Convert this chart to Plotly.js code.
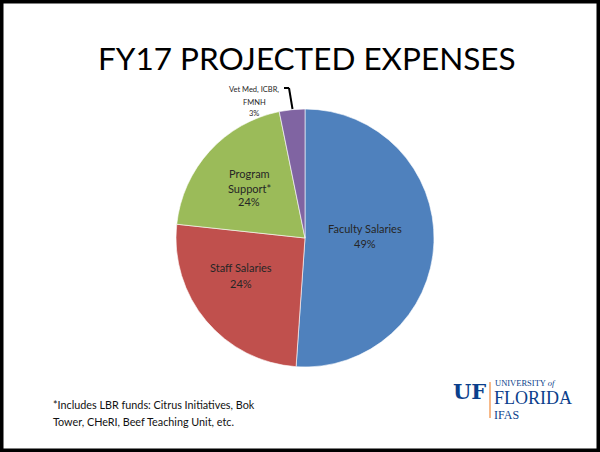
<!DOCTYPE html>
<html>
<head>
<meta charset="utf-8">
<script src="https://cdn.plot.ly/plotly-3.0.1.min.js"></script>
<style>
html,body{margin:0;padding:0;background:#fff;}
#chart{width:600px;height:452px;}
</style>
</head>
<body>
<div id="chart"></div>
<script>
// Data (slice sizes as drawn; label texts as printed)
const categories = ["Faculty Salaries", "Staff Salaries", "Program Support*", "Vet Med, ICBR, FMNH"];
const values = [51.1, 25.6, 20.1, 3.2];
const labelLines = [["Faculty Salaries", "49%"], ["Staff Salaries", "24%"], ["Program", "Support*", "24%"], ["Vet Med, ICBR,", "FMNH", "3%"]];
const colors = ["#4F81BD", "#C0504D", "#9BBB59", "#8064A2"];
const titleText = "FY17 PROJECTED EXPENSES";
const footnoteLines = ["*Includes LBR funds: Citrus Initiatives, Bok", "Tower, CHeRI, Beef Teaching Unit, etc."];

const W = 600, H = 452;
const px = x => x / W;
const py = y => 1 - y / H;

const FONT = "Lato, 'Open Sans', sans-serif";

// label placements (pixel positions of each line)
const labelPos = [
  {x: 365, ys: [228, 244], size: 11},
  {x: 241, ys: [267, 283], size: 11},
  {x: 249, ys: [173, 188, 202], size: 11},
  {x: 254, ys: [89, 102, 113], size: 7.5}
];

const annotations = [];
labelLines.forEach((lines, i) => {
  lines.forEach((t, j) => {
    annotations.push({
      xref: 'paper', yref: 'paper', x: px(labelPos[i].x), y: py(labelPos[i].ys[j]),
      xanchor: 'center', yanchor: 'middle', showarrow: false, text: t,
      font: {family: FONT, size: labelPos[i].size, color: '#262626'}
    });
  });
});

annotations.push({
  xref: 'paper', yref: 'paper', x: px(307), y: py(58), xanchor: 'center', yanchor: 'middle',
  showarrow: false, text: titleText, font: {family: FONT, size: 31.5, color: '#000'}
});
footnoteLines.forEach((t, j) => {
  annotations.push({
    xref: 'paper', yref: 'paper', x: px(51), y: py(404 + j * 17), xanchor: 'left', yanchor: 'middle',
    showarrow: false, text: t, font: {family: FONT, size: 10.8, color: '#111'}
  });
});
// UF / IFAS logo text
const SERIF = "'Liberation Serif', serif";
annotations.push({xref:'paper',yref:'paper',x:px(451),y:py(391),xanchor:'left',yanchor:'middle',showarrow:false,
  text:'<b>UF</b>',font:{family:"'DejaVu Serif', serif",size:21,color:'#0B3F8C'}});
annotations.push({xref:'paper',yref:'paper',x:px(494),y:py(382.5),xanchor:'left',yanchor:'middle',showarrow:false,
  text:'UNIVERSITY <i>of</i>',font:{family:SERIF,size:8.5,color:'#0B3F8C'},borderpad:0});
annotations.push({xref:'paper',yref:'paper',x:px(493),y:py(398),xanchor:'left',yanchor:'middle',showarrow:false,
  text:'FLORIDA',font:{family:SERIF,size:18,color:'#0B3F8C'},borderpad:0});
annotations.push({xref:'paper',yref:'paper',x:px(493),y:py(415),xanchor:'left',yanchor:'middle',showarrow:false,
  text:'IFAS',font:{family:SERIF,size:12,color:'#0B3F8C'},borderpad:0});

const shapes = [
  // frame
  {type:'rect', xref:'paper', yref:'paper', x0:0, x1:1, y0:0, y1:1, line:{color:'#000', width:7}, fillcolor:'rgba(0,0,0,0)'},
  // leader line for small slice
  {type:'line', xref:'paper', yref:'paper', x0:px(284), y0:py(88), x1:px(289), y1:py(88), line:{color:'#000', width:2}},
  {type:'line', xref:'paper', yref:'paper', x0:px(289), y0:py(88), x1:px(292.5), y1:py(109), line:{color:'#000', width:2}},
  // orange divider in logo
  {type:'line', xref:'paper', yref:'paper', x0:px(490), y0:py(382), x1:px(490), y1:py(418), line:{color:'#F28A3B', width:1.2}}
];

const trace = {
  type: 'pie',
  labels: categories,
  values: values,
  sort: false,
  direction: 'clockwise',
  rotation: 0,
  marker: {colors: colors, line: {color: '#ffffff', width: 0.6}},
  textinfo: 'none',
  hoverinfo: 'label+percent',
  domain: {x: [px(176), px(434)], y: [py(367), py(109)]},
  showlegend: false
};

Plotly.newPlot('chart', [trace], {
  width: W, height: H,
  margin: {l: 0, r: 0, t: 0, b: 0},
  paper_bgcolor: '#fff',
  showlegend: false,
  annotations: annotations,
  shapes: shapes
}, {displayModeBar: false, staticPlot: true});
</script>
</body>
</html>
